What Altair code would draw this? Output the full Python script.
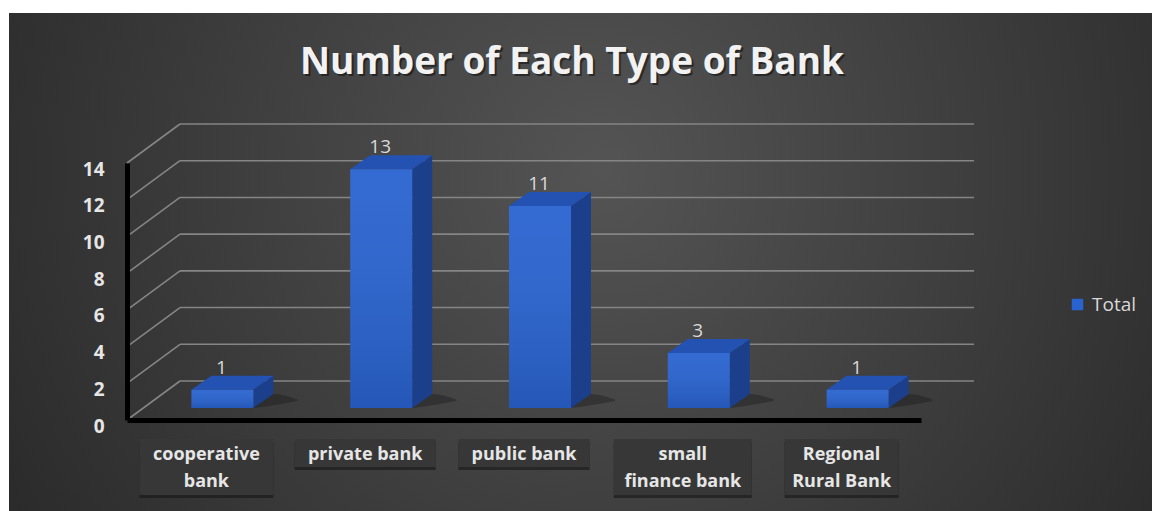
import altair as alt
import pandas as pd

# ---------------- data ----------------
categories = ["cooperative bank", "private bank", "public bank",
              "small finance bank", "Regional Rural Bank"]
values = [1, 13, 11, 3, 1]
label_lines = ["cooperative\nbank", "private bank", "public bank",
               "small\nfinance bank", "Regional\nRural Bank"]
y_ticks = [0, 2, 4, 6, 8, 10, 12, 14]
series_name = "Total"
title_text = "Number of Each Type of Bank"

# ---------------- layout / style ----------------
W, H = 794, 257                     # front plane of the 3-D box
PAD = {"left": 127, "top": 163, "right": 231, "bottom": 91}
N = len(categories)
YMAX = 14
PX_X = W / N
PX_Y = H / YMAX
BACK_DX, BACK_DY = 53 / PX_X, 39 / PX_Y     # depth of the side wall
BAR_DX, BAR_DY = 16 / PX_X, 12 / PX_Y       # plane where bars stand
BAR_HW = 31 / PX_X                          # half width of bar front
DEP_X, DEP_Y = 20 / PX_X, 14 / PX_Y         # bar depth
box_w_px = [134, 141, 131, 138, 114]
box_h_px = [56, 28, 28, 56, 56]

FONT = "Open Sans"
TXT = "#e6e6e6"
FRONT = "#2963d0"
SIDE = "#1c3f8c"
TOP = "#2352b2"
GRID = "#858585"

xs = alt.Scale(domain=[0, N], nice=False, zero=False)
ys = alt.Scale(domain=[0, YMAX], nice=False, zero=False)
XA = alt.Axis(title=None, labels=False, ticks=False, grid=False,
              domainColor="black", domainWidth=5, zindex=1)
YA = alt.Axis(title=None, values=y_ticks, ticks=False, grid=False,
              domainColor="black", domainWidth=5, zindex=1,
              labelFont=FONT, labelFontSize=19, labelFontWeight="bold",
              labelColor=TXT, labelPadding=23, labelOffset=6)


def X(f):
    return alt.X(f, type="quantitative", scale=xs, axis=XA)


def Y(f):
    return alt.Y(f, type="quantitative", scale=ys, axis=YA, stack=None)


# ---------------- tables ----------------
grid = pd.DataFrame({"v": y_ticks})
grid["x0"] = 0.0
grid["xb"] = BACK_DX
grid["xe"] = N + BACK_DX
grid["vb"] = grid["v"] + BACK_DY

bars = pd.DataFrame({"cat": categories, "value": values})
bars["i"] = range(N)
bars["series"] = series_name
bars["cx"] = bars["i"] + 0.5 + BAR_DX
bars["xl"] = bars["cx"] - BAR_HW
bars["xr"] = bars["cx"] + BAR_HW
bars["yb"] = BAR_DY
bars["yt"] = bars["value"] + BAR_DY
bars["lab_y"] = bars["yt"] + DEP_Y

side_rows, top_rows, shadow_rows = [], [], []
for _, r in bars.iterrows():
    side_rows += [
        {"bar": r["cat"], "x": r["xr"], "lo": r["yb"], "hi": r["yt"]},
        {"bar": r["cat"], "x": r["xr"] + DEP_X, "lo": r["yb"] + DEP_Y, "hi": r["yt"] + DEP_Y},
    ]
    t = r["yt"]
    top_rows += [
        {"bar": r["cat"], "x": r["xl"], "lo": t, "hi": t},
        {"bar": r["cat"], "x": r["xl"] + DEP_X, "lo": t, "hi": t + DEP_Y},
        {"bar": r["cat"], "x": r["xr"], "lo": t, "hi": t + DEP_Y},
        {"bar": r["cat"], "x": r["xr"] + DEP_X, "lo": t + DEP_Y, "hi": t + DEP_Y},
    ]
    b = r["yb"]
    shadow_rows += [
        {"bar": r["cat"], "x": r["xr"], "lo": b, "hi": b},
        {"bar": r["cat"], "x": r["xr"] + DEP_X, "lo": b + DEP_Y * 0.2, "hi": b + DEP_Y},
        {"bar": r["cat"], "x": r["xr"] + DEP_X * 2.2, "lo": b + DEP_Y * 0.5, "hi": b + DEP_Y * 0.6},
    ]
side = pd.DataFrame(side_rows)
top = pd.DataFrame(top_rows)
shadow = pd.DataFrame(shadow_rows)

labels = pd.DataFrame({"lab": label_lines, "w": box_w_px, "h": box_h_px})
labels["xc"] = [i + 0.5 for i in range(N)]
labels["xl"] = labels["xc"] - labels["w"] / 2 / PX_X
labels["xr"] = labels["xc"] + labels["w"] / 2 / PX_X
lab1 = labels[labels["h"] < 40]
lab2 = labels[labels["h"] >= 40]

# ---------------- layers ----------------
bg = alt.Chart(pd.DataFrame({"a": [0]})).mark_rect(
    color=alt.RadialGradient(
        gradient="radial",
        stops=[alt.GradientStop(color="#545454", offset=0),
               alt.GradientStop(color="#1e1e1e", offset=1)],
        x1=0.52, y1=0.42, r1=0, x2=0.52, y2=0.42, r2=0.78)
).encode(x=alt.value(-118), x2=alt.value(1025),
         y=alt.value(-150), y2=alt.value(348))

title_df = pd.DataFrame({"t": [title_text]})
title_shadow = alt.Chart(title_df).mark_text(
    font=FONT, fontSize=37, fontWeight="bold", color="black", opacity=0.45,
    align="center", baseline="middle"
).encode(x=alt.value(447), y=alt.value(-98), text="t:N")
title = alt.Chart(title_df).mark_text(
    font=FONT, fontSize=37, fontWeight="bold", color="#f2f2f2",
    align="center", baseline="middle"
).encode(x=alt.value(445), y=alt.value(-100), text="t:N")

back_lines = alt.Chart(grid).mark_rule(color=GRID, strokeWidth=1.6).encode(
    x=X("xb"), x2="xe", y=Y("vb"), y2="vb")
diag_lines = alt.Chart(grid).mark_rule(color=GRID, strokeWidth=1.6).encode(
    x=X("x0"), x2="xb", y=Y("v"), y2="vb")

boxes_1 = alt.Chart(lab1).mark_rect(color="#373737").encode(
    x=X("xl"), x2="xr", y=alt.value(276), y2=alt.value(304))
boxes_2 = alt.Chart(lab2).mark_rect(color="#373737").encode(
    x=X("xl"), x2="xr", y=alt.value(276), y2=alt.value(332))
shadow_1 = alt.Chart(lab1).mark_rect(color="#161616", opacity=0.6).encode(
    x=X("xl"), x2="xr", y=alt.value(279), y2=alt.value(307))
shadow_2 = alt.Chart(lab2).mark_rect(color="#161616", opacity=0.6).encode(
    x=X("xl"), x2="xr", y=alt.value(279), y2=alt.value(335))
box_text = alt.Chart(labels).mark_text(
    font=FONT, fontSize=18, fontWeight="bold", color=TXT,
    lineBreak="\n", lineHeight=27, baseline="middle", align="center"
).encode(x=X("xc"), y=alt.value(292), text="lab:N")

floor_shadow = alt.Chart(shadow).mark_area(
    orient="vertical", color="#151515", opacity=0.35, interpolate="monotone"
).encode(x=X("x"), y=Y("lo"), y2="hi", detail="bar:N")

side_face = alt.Chart(side).mark_area(orient="vertical", color=SIDE).encode(
    x=X("x"), y=Y("lo"), y2="hi", detail="bar:N")
top_face = alt.Chart(top).mark_area(orient="vertical", color=TOP).encode(
    x=X("x"), y=Y("lo"), y2="hi", detail="bar:N")
front_face = alt.Chart(bars).mark_rect().encode(
    x=X("xl"), x2="xr", y=Y("yb"), y2="yt",
    color=alt.Color("series:N", scale=alt.Scale(range=[FRONT]),
                    legend=alt.Legend(orient="none", legendX=941, legendY=132,
                                      title=None, symbolType="square",
                                      symbolSize=130, symbolStrokeWidth=0,
                                      labelFont=FONT, labelFontSize=19,
                                      labelColor="#d9d9d9", labelOffset=5,
                                      padding=0)))
front_shine = alt.Chart(bars).mark_rect(
    color=alt.LinearGradient(
        gradient="linear",
        stops=[alt.GradientStop(color="rgba(255,255,255,0.05)", offset=0),
               alt.GradientStop(color="rgba(0,0,0,0.12)", offset=1)],
        x1=0, y1=0, x2=0, y2=1)
).encode(x=X("xl"), x2="xr", y=Y("yb"), y2="yt")

data_labels = alt.Chart(bars).mark_text(
    font=FONT, fontSize=19, color="#d9d9d9", baseline="alphabetic", dy=-2, dx=-1
).encode(x=X("cx"), y=Y("lab_y"), text="value:Q")

chart = alt.layer(
    bg, title_shadow, title, back_lines, diag_lines, shadow_1, shadow_2,
    boxes_1, boxes_2, box_text,
    floor_shadow, side_face, top_face, front_face, front_shine, data_labels
).properties(
    width=W, height=H,
    padding=PAD,
    autosize=alt.AutoSizeParams(type="none"),
).configure(background="white").configure_view(stroke=None)

chart.save("out.html", embed_options={"renderer": "svg", "actions": False})
